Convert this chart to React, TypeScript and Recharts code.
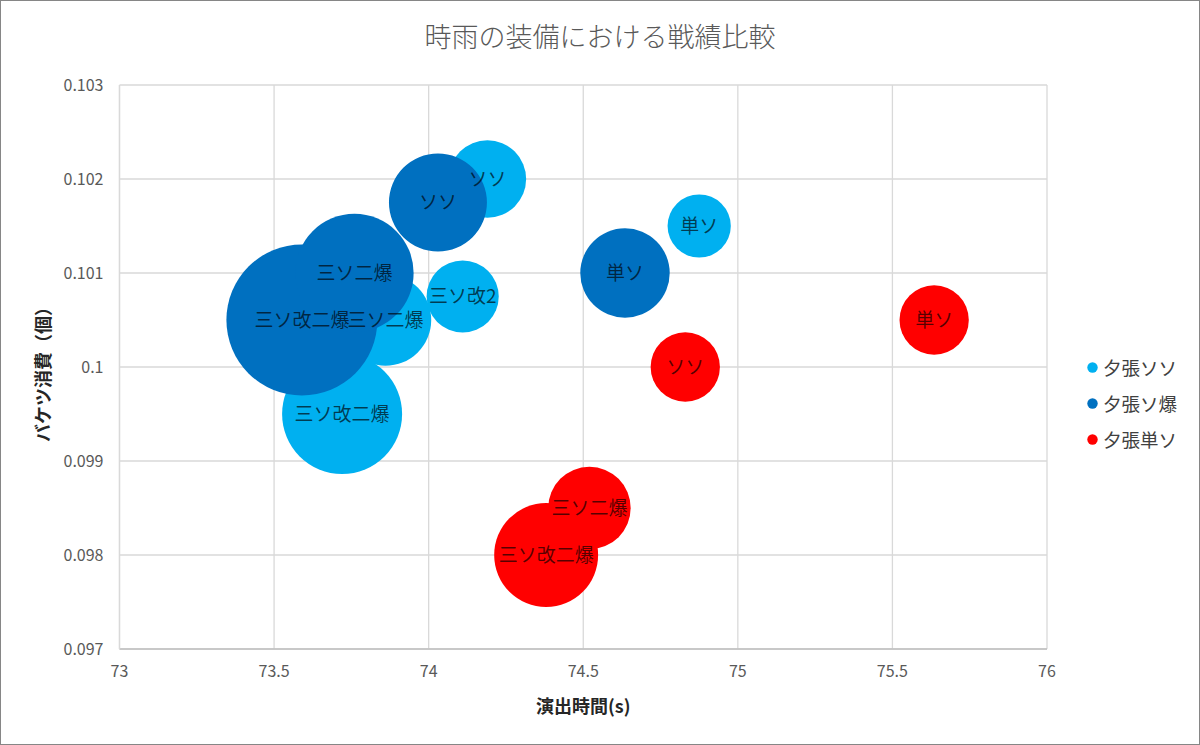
import React from 'react';
import {
  ScatterChart,
  Scatter,
  XAxis,
  YAxis,
  ZAxis,
  CartesianGrid,
  Legend,
  LabelList,
} from 'recharts';

// ---- data ----
const seriesNames = ['夕張ソソ', '夕張ソ爆', '夕張単ソ'];
const seriesColors = ['#00B0F0', '#0070C0', '#FF0000'];

const lbNames = ['三ソ改二爆', '三ソ二爆', 'ソソ', '三ソ改2', '単ソ'];
const lbX = [73.72, 73.86, 74.19, 74.11, 74.875];
const lbY = [0.0995, 0.1005, 0.102, 0.10075, 0.1015];
const lbZ = [36, 21, 15, 13, 10];

const dbNames = ['三ソ改二爆', '三ソ二爆', 'ソソ', '単ソ'];
const dbX = [73.59, 73.76, 74.03, 74.635];
const dbY = [0.1005, 0.101, 0.10175, 0.101];
const dbZ = [57, 35, 24, 20];

const rdNames = ['三ソ改二爆', '三ソ二爆', '単ソ', 'ソソ'];
const rdX = [74.38, 74.52, 75.635, 74.83];
const rdY = [0.098, 0.0985, 0.1005, 0.1];
const rdZ = [27, 17, 12, 12];

const xTicks = [73, 73.5, 74, 74.5, 75, 75.5, 76];
const yTicks = [0.097, 0.098, 0.099, 0.1, 0.101, 0.102, 0.103];

const chartTitle = '時雨の装備における戦績比較';
const xTitle = '演出時間(s)';
const yTitle = 'バケツ消費（個）';

const build = (names: string[], xs: number[], ys: number[], zs: number[]) =>
  names.map((n, i) => ({ name: n, x: xs[i], y: ys[i], z: zs[i] }));

const lbData = build(lbNames, lbX, lbY, lbZ);
const dbData = build(dbNames, dbX, dbY, dbZ);
const rdData = build(rdNames, rdX, rdY, rdZ);
const allData = [...lbData, ...dbData, ...rdData];

const FONT = '"Noto Sans CJK JP", "Noto Sans", sans-serif';

const renderLegend = (props: any) => {
  const { payload } = props;
  const items = (payload || []).filter(
    (e: any) => e.type !== 'none' && seriesNames.includes(e.value)
  );
  return (
    <div style={{ fontFamily: FONT }}>
      {items.map((e: any, i: number) => (
        <div
          key={i}
          style={{ display: 'flex', alignItems: 'center', height: 36 }}
        >
          <svg width={11} height={11} style={{ display: 'block' }}>
            <circle cx={5.5} cy={5.5} r={5.2} fill={e.color} />
          </svg>
          <span style={{ marginLeft: 5, fontSize: 18.5, color: '#404040', lineHeight: '20px' }}>
            {e.value}
          </span>
        </div>
      ))}
    </div>
  );
};

const EmptyShape = () => <g />;

export default function App() {
  return (
    <div
      style={{
        position: 'absolute',
        left: 0,
        top: 0,
        width: 1200,
        height: 745,
        background: '#fff',
        fontFamily: FONT,
      }}
    >
      <ScatterChart
        width={1200}
        height={745}
        margin={{ top: 85, right: 153, bottom: 0, left: 0 }}
      >
        <CartesianGrid stroke="#D9D9D9" strokeWidth={1.3} />
        <XAxis
          type="number"
          dataKey="x"
          domain={[73, 76]}
          ticks={xTicks}
          height={96}
          tickLine={false}
          tickSize={0}
          tickMargin={17}
          axisLine={{ stroke: '#BFBFBF', strokeWidth: 1.6 }}
          tick={{ fill: '#595959', fontSize: 16, fontFamily: FONT }}
          allowDataOverflow
        />
        <YAxis
          type="number"
          dataKey="y"
          domain={[0.097, 0.103]}
          ticks={yTicks}
          width={119.5}
          tickLine={false}
          tickSize={0}
          tickMargin={16}
          axisLine={{ stroke: '#D9D9D9', strokeWidth: 1.3 }}
          tick={{ fill: '#595959', fontSize: 16, fontFamily: FONT }}
          tickFormatter={(v: number) => String(v)}
          allowDataOverflow
        />
        <ZAxis type="number" dataKey="z" domain={[0, 100]} range={[0, 31415.9]} />
        <Legend
          layout="vertical"
          align="center"
          verticalAlign="middle"
          content={renderLegend}
          wrapperStyle={{ left: 1087, top: 349, width: 112 }}
        />
        <Scatter
          name={seriesNames[0]}
          data={lbData}
          fill={seriesColors[0]}
          isAnimationActive={false}
        />
        <Scatter
          name={seriesNames[1]}
          data={dbData}
          fill={seriesColors[1]}
          isAnimationActive={false}
        />
        <Scatter
          name={seriesNames[2]}
          data={rdData}
          fill={seriesColors[2]}
          isAnimationActive={false}
        />
        <Scatter
          name="labels"
          data={allData}
          fill="none"
          legendType="none"
          shape={EmptyShape}
          isAnimationActive={false}
        >
          <LabelList
            dataKey="name"
            position="center"
            fill="#000"
            fillOpacity={0.66}
            fontSize={19}
            fontFamily={FONT}
          />
        </Scatter>
      </ScatterChart>

      <div
        style={{
          position: 'absolute',
          left: 0,
          top: 19,
          width: 1200,
          textAlign: 'center',
          fontSize: 27,
          fontWeight: 300,
          color: '#595959',
          lineHeight: '34px',
        }}
      >
        {chartTitle}
      </div>
      <div
        style={{
          position: 'absolute',
          left: 119.5,
          top: 692,
          width: 927.5,
          textAlign: 'center',
          fontSize: 18,
          fontWeight: 700,
          color: '#262626',
          lineHeight: '26px',
        }}
      >
        {xTitle}
      </div>
      <div
        style={{
          position: 'absolute',
          left: 42 - 150,
          top: 370 - 13,
          width: 300,
          height: 26,
          textAlign: 'center',
          fontSize: 18,
          fontWeight: 700,
          color: '#262626',
          lineHeight: '26px',
          transform: 'rotate(-90deg)',
        }}
      >
        {yTitle}
      </div>
      <div
        style={{
          position: 'absolute',
          left: 0,
          top: 0,
          width: 1200,
          height: 745,
          boxSizing: 'border-box',
          border: '1.5px solid #868686',
          pointerEvents: 'none',
        }}
      />
    </div>
  );
}
